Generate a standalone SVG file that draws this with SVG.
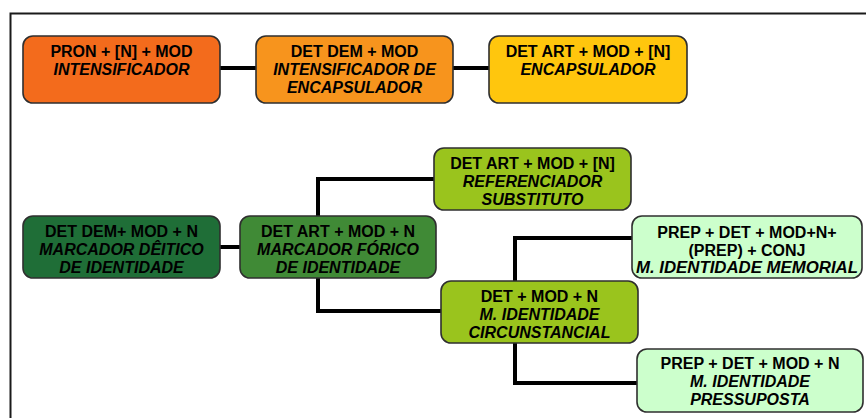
<svg xmlns="http://www.w3.org/2000/svg" width="866" height="418" viewBox="0 0 866 418">
  <style>
    .box { stroke: #2f2f2f; stroke-width: 1.6; }
    .t { font-family: "Liberation Sans", Arial, sans-serif; font-size: 16px; font-weight: bold; fill: #000; text-anchor: middle; }
    .i { font-style: italic; }
    .wire { fill: none; stroke: #000; stroke-width: 4; stroke-linejoin: miter; }
    .frame { fill: none; stroke: #1a1a1a; stroke-width: 2; }
  </style>
  <rect width="866" height="418" fill="#fff"/>
  <!-- outer frame: top and left edges -->
  <path class="frame" d="M866 13.5 H10.5 V418"/>

  <g id="connectors">
    <path class="wire" d="M220 68 H256"/>
    <path class="wire" d="M453 68 H489"/>
    <path class="wire" d="M220 247 H240"/>
    <path class="wire" d="M318 216 V179 H434"/>
    <path class="wire" d="M318 278 V311 H441"/>
    <path class="wire" d="M515 281 V238 H632"/>
    <path class="wire" d="M515 343 V383 H637"/>
  </g>

  <g id="pron-intensificador">
    <rect class="box" x="23" y="36" width="197" height="67" rx="10" fill="#F36B1C"/>
    <text class="t" x="121.5" y="56.5">PRON + [N] + MOD</text>
    <text class="t i" x="121.5" y="74.5">INTENSIFICADOR</text>
  </g>
  <g id="detdem-intensificador-encapsulador">
    <rect class="box" x="256" y="36" width="197" height="67" rx="10" fill="#F7941D"/>
    <text class="t" x="354.5" y="56.5">DET DEM + MOD</text>
    <text class="t i" x="354.5" y="74.5">INTENSIFICADOR DE</text>
    <text class="t i" x="354.5" y="92.5">ENCAPSULADOR</text>
  </g>
  <g id="detart-encapsulador">
    <rect class="box" x="489" y="36" width="198" height="67" rx="10" fill="#FFC60D"/>
    <text class="t" x="588" y="57">DET ART + MOD + [N]</text>
    <text class="t i" x="588" y="75">ENCAPSULADOR</text>
  </g>

  <g id="marcador-deitico">
    <rect class="box" x="23" y="216" width="197" height="62" rx="10" fill="#1F6E37"/>
    <text class="t" x="121.5" y="237">DET DEM+ MOD + N</text>
    <text class="t i" x="121.5" y="255">MARCADOR DÊITICO</text>
    <text class="t i" x="121.5" y="273">DE IDENTIDADE</text>
  </g>
  <g id="marcador-forico">
    <rect class="box" x="240" y="216" width="196" height="62" rx="10" fill="#408A36"/>
    <text class="t" x="338" y="237">DET ART + MOD + N</text>
    <text class="t i" x="338" y="255">MARCADOR FÓRICO</text>
    <text class="t i" x="338" y="273">DE IDENTIDADE</text>
  </g>
  <g id="referenciador-substituto">
    <rect class="box" x="434" y="148" width="197" height="62" rx="10" fill="#9AC41D"/>
    <text class="t" x="532.5" y="169">DET ART + MOD + [N]</text>
    <text class="t i" x="532.5" y="187">REFERENCIADOR</text>
    <text class="t i" x="532.5" y="204.5">SUBSTITUTO</text>
  </g>
  <g id="identidade-memorial">
    <rect class="box" x="632" y="216" width="230" height="62" rx="10" fill="#CCFFCC"/>
    <text class="t" x="747" y="237.5">PREP + DET + MOD+N+</text>
    <text class="t" x="747" y="255.5">(PREP) + CONJ</text>
    <text class="t i" x="747" y="273" textLength="222" lengthAdjust="spacingAndGlyphs">M. IDENTIDADE MEMORIAL</text>
  </g>
  <g id="identidade-circunstancial">
    <rect class="box" x="441" y="281" width="197" height="62" rx="10" fill="#9AC41D"/>
    <text class="t" x="539.5" y="302">DET + MOD + N</text>
    <text class="t i" x="539.5" y="320">M. IDENTIDADE</text>
    <text class="t i" x="539.5" y="338">CIRCUNSTANCIAL</text>
  </g>
  <g id="identidade-pressuposta">
    <rect class="box" x="637" y="349" width="226" height="63" rx="10" fill="#CCFFCC"/>
    <text class="t" x="750" y="369">PREP + DET + MOD + N</text>
    <text class="t i" x="750" y="387">M. IDENTIDADE</text>
    <text class="t i" x="750" y="404.5">PRESSUPOSTA</text>
  </g>
</svg>
